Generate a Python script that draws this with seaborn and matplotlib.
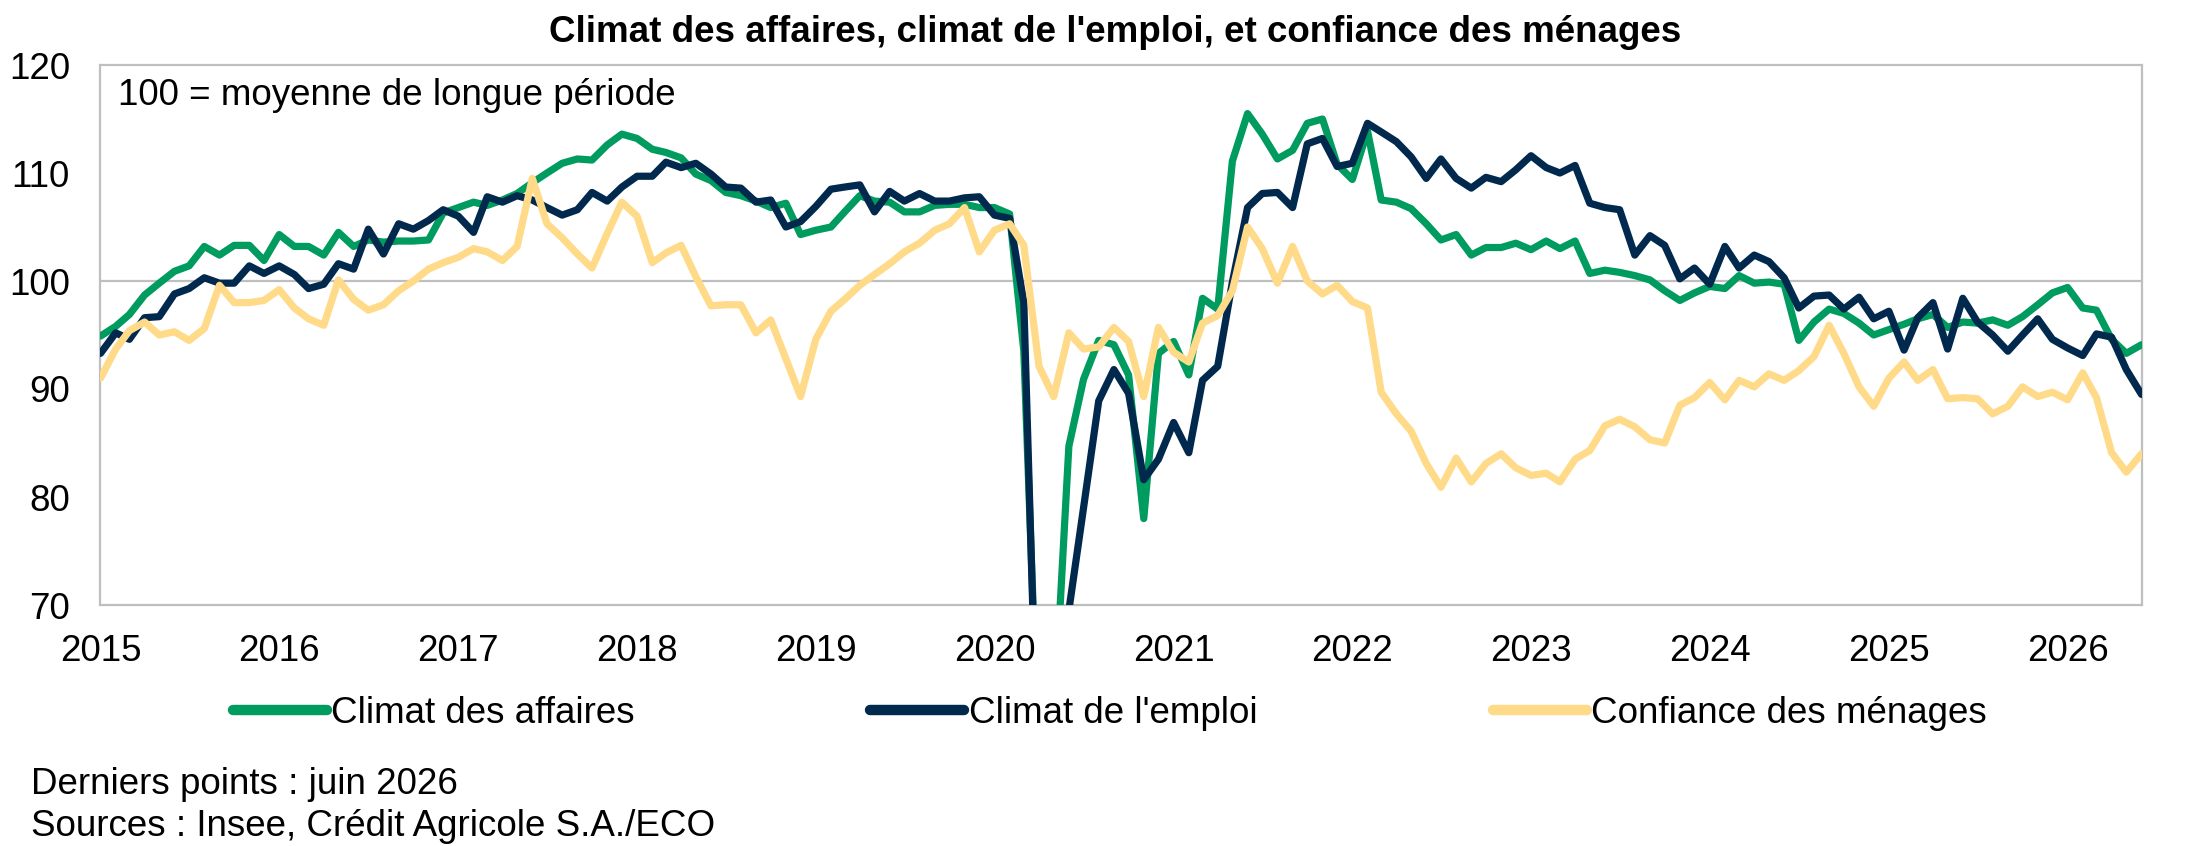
import numpy as np
import pandas as pd
import matplotlib
matplotlib.use("Agg")
import matplotlib.pyplot as plt
import matplotlib.dates as mdates
import seaborn as sns

# ---------------- data ----------------
dates = pd.date_range("2015-01-01", "2026-06-01", freq="MS")

affaires = [
    94.9, 95.8, 96.9, 98.7, 99.8, 100.9, 101.4, 103.2, 102.4, 103.3, 103.3, 101.9,
    104.3, 103.2, 103.2, 102.4, 104.5, 103.2, 103.8, 103.6, 103.7, 103.7, 103.8, 106.3,
    106.8, 107.3, 107.0, 107.5, 108.1, 109.1, 110.0, 110.9, 111.3, 111.2, 112.6, 113.6,
    113.2, 112.2, 111.9, 111.4, 109.9, 109.3, 108.2, 107.9, 107.4, 106.8, 107.2, 104.3,
    104.7, 105.0, 106.4, 107.9, 107.4, 107.3, 106.4, 106.4, 107.0, 107.1, 107.1, 106.8,
    106.8, 106.2, 93.5, 55.0, 59.0, 84.7, 90.9, 94.5, 94.1, 91.3, 78.0, 93.3,
    94.4, 91.3, 98.4, 97.4, 111.1, 115.5, 113.6, 111.3, 112.1, 114.6, 115.0, 110.8,
    109.4, 113.9, 107.5, 107.3, 106.7, 105.3, 103.8, 104.3, 102.4, 103.1, 103.1, 103.5,
    102.9, 103.7, 103.0, 103.7, 100.7, 101.0, 100.8, 100.5, 100.1, 99.1, 98.2, 98.9,
    99.5, 99.3, 100.5, 99.8, 99.9, 99.7, 94.5, 96.2, 97.4, 97.0, 96.1, 95.0,
    95.5, 96.0, 96.5, 96.9, 95.7, 96.2, 96.1, 96.4, 95.9, 96.7, 97.8, 98.9,
    99.4, 97.5, 97.3, 94.6, 93.3, 94.1,
]

emploi = [
    93.3, 95.2, 94.6, 96.6, 96.7, 98.8, 99.3, 100.3, 99.8, 99.8, 101.4, 100.7,
    101.4, 100.6, 99.3, 99.7, 101.6, 101.1, 104.8, 102.5, 105.3, 104.8, 105.6, 106.6,
    106.0, 104.5, 107.8, 107.3, 107.9, 107.5, 106.8, 106.1, 106.6, 108.2, 107.4, 108.7,
    109.7, 109.7, 111.0, 110.5, 110.9, 109.9, 108.7, 108.6, 107.3, 107.5, 105.0, 105.5,
    106.9, 108.5, 108.7, 108.9, 106.4, 108.3, 107.4, 108.1, 107.4, 107.4, 107.7, 107.8,
    106.1, 105.8, 98.0, 50.0, 56.0, 69.5, 79.0, 88.9, 91.8, 89.6, 81.6, 83.5,
    86.9, 84.1, 90.8, 92.1, 99.9, 106.8, 108.1, 108.2, 106.8, 112.7, 113.2, 110.6,
    110.9, 114.6, 113.8, 112.9, 111.5, 109.5, 111.3, 109.5, 108.6, 109.6, 109.2, 110.3,
    111.6, 110.5, 110.0, 110.7, 107.2, 106.8, 106.6, 102.4, 104.2, 103.3, 100.2, 101.2,
    99.7, 103.2, 101.2, 102.4, 101.8, 100.3, 97.5, 98.6, 98.7, 97.4, 98.5, 96.5,
    97.2, 93.6, 96.6, 98.0, 93.7, 98.4, 96.2, 95.0, 93.5, 95.0, 96.5, 94.6,
    93.8, 93.1, 95.1, 94.8, 91.8, 89.5,
]

menages = [
    91.0, 93.7, 95.4, 96.2, 95.0, 95.3, 94.5, 95.6, 99.6, 98.0, 98.0, 98.2,
    99.2, 97.5, 96.5, 95.9, 100.1, 98.3, 97.3, 97.8, 99.1, 100.0, 101.1, 101.7,
    102.2, 103.0, 102.7, 101.9, 103.2, 109.5, 105.3, 104.0, 102.5, 101.2, 104.4, 107.3,
    106.0, 101.7, 102.6, 103.3, 100.4, 97.7, 97.8, 97.8, 95.2, 96.4, 92.8, 89.3,
    94.6, 97.2, 98.3, 99.6, 100.6, 101.6, 102.7, 103.5, 104.7, 105.3, 106.8, 102.7,
    104.7, 105.3, 103.3, 92.1, 89.3, 95.2, 93.7, 93.9, 95.7, 94.4, 89.3, 95.7,
    93.4, 92.5, 96.1, 96.8, 99.1, 105.0, 103.0, 99.8, 103.2, 100.0, 98.8, 99.6,
    98.1, 97.5, 89.7, 87.7, 86.1, 83.1, 80.9, 83.6, 81.4, 83.1, 84.0, 82.7,
    82.0, 82.2, 81.4, 83.5, 84.3, 86.6, 87.2, 86.5, 85.3, 85.0, 88.5, 89.2,
    90.6, 89.0, 90.8, 90.2, 91.4, 90.8, 91.7, 93.0, 95.9, 93.3, 90.2, 88.4,
    91.0, 92.5, 90.8, 91.8, 89.1, 89.2, 89.1, 87.7, 88.4, 90.2, 89.3, 89.7,
    89.0, 91.5, 89.2, 84.1, 82.3, 84.0,
]

series_names = ["Climat des affaires", "Climat de l'emploi", "Confiance des ménages"]
series_colors = ["#009B5E", "#00294D", "#FFDA88"]
y_ticks = [70, 80, 90, 100, 110, 120]

title = "Climat des affaires, climat de l'emploi, et confiance des ménages"
note_inside = "100 = moyenne de longue période"
footnote1 = "Derniers points : juin 2026"
footnote2 = "Sources : Insee, Crédit Agricole S.A./ECO"

df = pd.concat(
    [
        pd.DataFrame({"date": dates, "valeur": vals, "serie": name})
        for name, vals in zip(series_names, [affaires, emploi, menages])
    ],
    ignore_index=True,
)

# ---------------- style ----------------
sns.set_theme(style="white")
plt.rcParams["font.family"] = ["Liberation Sans", "DejaVu Sans"]
plt.rcParams["text.color"] = "black"
FS = 26.5
GRID = "#BFBFBF"

fig = plt.figure(figsize=(22.09, 8.46), dpi=100)
ax = fig.add_axes([100.5 / 2209, 1 - 605 / 846, 2041 / 2209, 540 / 846])

ax.axhline(100, color=GRID, lw=1.6, zorder=1)

sns.lineplot(
    data=df, x="date", y="valeur", hue="serie", hue_order=series_names,
    palette=series_colors, lw=5.2, ax=ax, legend=True, zorder=3,
)

handles, labels = ax.get_legend_handles_labels()
if ax.get_legend() is not None:
    ax.get_legend().remove()
for h in handles:
    h.set_linewidth(7.5)
    h.set_solid_capstyle("round")

ax.set_xlim(dates[0], dates[-1])
ax.set_ylim(70, 120)
ax.set_yticks(y_ticks)
ax.xaxis.set_major_locator(mdates.YearLocator())
ax.xaxis.set_major_formatter(mdates.DateFormatter("%Y"))
ax.set_xlabel("")
ax.set_ylabel("")
ax.tick_params(axis="both", length=0, labelsize=FS, colors="black")
ax.tick_params(axis="y", pad=22)
ax.tick_params(axis="x", pad=21)
for s in ax.spines.values():
    s.set_visible(True)
    s.set_color(GRID)
    s.set_linewidth(1.6)
ax.grid(False)

ax.text((118 - 100.5) / 2041, (605 - 105) / 540, note_inside, transform=ax.transAxes,
        fontsize=FS, va="baseline", ha="left", color="black")

fig.text(1115 / 2209, 1 - 42 / 846, title, fontsize=FS, fontweight="bold",
         ha="center", va="baseline", color="black")

fig.legend(handles, labels, loc="center", bbox_to_anchor=(1110 / 2209, 1 - 713 / 846),
           ncol=3, frameon=False, fontsize=FS, handlelength=2.55, handletextpad=0.12,
           columnspacing=6.4, borderpad=0.2, labelcolor="black")

fig.text(31 / 2209, 1 - 794 / 846, footnote1, fontsize=FS, ha="left", va="baseline",
         color="black")
fig.text(31 / 2209, 1 - 836 / 846, footnote2, fontsize=FS, ha="left", va="baseline",
         color="black")

fig.savefig("out.png", dpi=100, facecolor="white")
